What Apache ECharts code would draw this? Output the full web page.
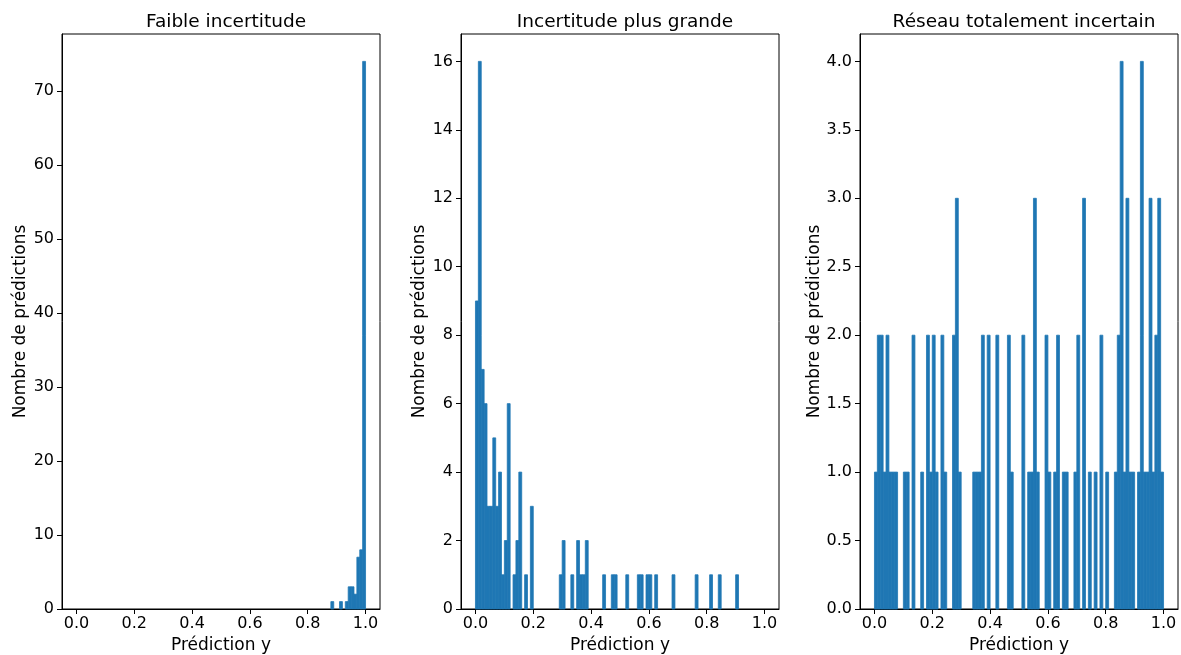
<!DOCTYPE html>
<html><head><meta charset="utf-8">
<script src="https://cdn.jsdelivr.net/npm/echarts@6/dist/echarts.min.js"></script>
<style>html,body{margin:0;padding:0;background:#fff}#c{width:1181px;height:655px}</style>
</head><body><div id="c"></div>
<script>
// ---- data ----
const titles = ['Faible incertitude', 'Incertitude plus grande', 'Réseau totalement incertain'];
const xLabel = 'Prédiction y';
const yLabel = 'Nombre de prédictions';
const binWidth = 0.01;
const xTicks = [0, 0.2, 0.4, 0.6, 0.8, 1.0];

// Panel 1: bin left edges and counts
const p1Edges = [0.88, 0.91, 0.93, 0.94, 0.95, 0.96, 0.97, 0.98, 0.99];
const p1Counts = [1, 1, 1, 3, 3, 2, 7, 8, 74];
const yTicks1 = [0, 10, 20, 30, 40, 50, 60, 70];

// Panel 2
const p2Edges = [0.00, 0.01, 0.02, 0.03, 0.04, 0.05, 0.06, 0.07, 0.08, 0.09, 0.10, 0.11, 0.13, 0.14, 0.15, 0.17, 0.19,
                 0.29, 0.30, 0.33, 0.35, 0.36, 0.37, 0.38, 0.44, 0.47, 0.48, 0.52, 0.56, 0.57, 0.59, 0.60, 0.62, 0.68,
                 0.76, 0.81, 0.84, 0.90];
const p2Counts = [9, 16, 7, 6, 3, 3, 5, 3, 4, 1, 2, 6, 1, 2, 4, 1, 3,
                  1, 2, 1, 2, 1, 1, 2, 1, 1, 1, 1, 1, 1, 1, 1, 1, 1,
                  1, 1, 1, 1];
const yTicks2 = [0, 2, 4, 6, 8, 10, 12, 14, 16];

// Panel 3: counts for each of the 100 bins (0.00 .. 0.99)
const p3Counts = [
  1, 2, 2, 1, 2, 1, 1, 1, 0, 0,
  1, 1, 0, 2, 0, 0, 1, 0, 2, 1,
  2, 1, 0, 2, 1, 0, 0, 2, 3, 1,
  0, 0, 0, 0, 1, 1, 1, 2, 0, 2,
  0, 0, 2, 0, 0, 0, 2, 1, 0, 0,
  0, 2, 0, 1, 1, 3, 1, 0, 0, 2,
  1, 0, 1, 2, 0, 1, 1, 0, 0, 1,
  2, 0, 3, 0, 1, 0, 1, 0, 2, 0,
  1, 0, 0, 1, 2, 4, 1, 3, 1, 1,
  0, 1, 4, 1, 1, 3, 1, 2, 3, 1
];
const p3Edges = p3Counts.map((_, i) => +(i * binWidth).toFixed(2));
const yTicks3 = [0, 0.5, 1.0, 1.5, 2.0, 2.5, 3.0, 3.5, 4.0];

// ---- chart ----
const FONT = 'DejaVu Sans';
const BLUE = '#1f77b4';
const panels = [
  {edges: p1Edges, counts: p1Counts, yTicks: yTicks1, fmt: v => String(v)},
  {edges: p2Edges, counts: p2Counts, yTicks: yTicks2, fmt: v => String(v)},
  {edges: p3Edges, counts: p3Counts, yTicks: yTicks3, fmt: v => v.toFixed(1)}
];
const gridLefts = [62, 461, 860];
const gridW = 318;

function renderBar(params, api) {
  const x0 = api.value(0), x1 = api.value(1), c = api.value(2);
  const a = api.coord([x0, 0]);
  const b = api.coord([x1, c]);
  return {
    type: 'rect',
    shape: {x: a[0], y: b[1], width: b[0] - a[0], height: a[1] - b[1]},
    style: {fill: BLUE, stroke: BLUE, lineWidth: 0.8}
  };
}

const option = {
  backgroundColor: '#fff',
  animation: false,
  title: titles.map((t, i) => ({
    text: t, left: gridLefts[i] + gridW / 2, top: 8, textAlign: 'center',
    textStyle: {fontFamily: FONT, fontSize: 18.5, fontWeight: 'normal', color: '#000'}
  })),
  grid: gridLefts.map(l => ({left: l, width: gridW, top: 34, bottom: 46, show: true,
    outerBoundsMode: 'none', containLabel: false,
    borderColor: '#000', borderWidth: 1, backgroundColor: 'transparent'})),
  xAxis: panels.map((p, i) => ({
    type: 'value', gridIndex: i, min: -0.05, max: 1.05,
    name: xLabel, nameLocation: 'middle', nameGap: 27,
    nameTextStyle: {fontFamily: FONT, fontSize: 17, color: '#000'},
    axisLine: {show: true, onZero: false, lineStyle: {color: '#000', width: 1}},
    axisTick: {show: true, inside: false, length: 5, customValues: xTicks, lineStyle: {color: '#000'}},
    axisLabel: {customValues: xTicks, margin: 7, fontFamily: FONT, fontSize: 16, color: '#000',
      formatter: v => v.toFixed(1)},
    splitLine: {show: false}
  })),
  yAxis: panels.map((p, i) => {
    const ymax = Math.max(...p.counts) * 1.05;
    return {
      type: 'value', gridIndex: i, min: 0, max: ymax,
      name: yLabel, nameLocation: 'middle', nameGap: 33,
      nameTextStyle: {fontFamily: FONT, fontSize: 17, color: '#000'},
      axisLine: {show: true, onZero: false, lineStyle: {color: '#000', width: 1}},
      axisTick: {show: true, inside: false, length: 5, customValues: p.yTicks, lineStyle: {color: '#000'}},
      axisLabel: {customValues: p.yTicks, margin: 8, fontFamily: FONT, fontSize: 16, color: '#000',
        formatter: p.fmt},
      splitLine: {show: false}
    };
  }),
  series: panels.map((p, i) => ({
    type: 'custom', xAxisIndex: i, yAxisIndex: i,
    renderItem: renderBar,
    encode: {x: [0, 1], y: 2},
    data: p.edges.map((e, k) => [e, +(e + binWidth).toFixed(2), p.counts[k]]).filter(d => d[2] > 0)
  }))
};

const chart = echarts.init(document.getElementById('c'), null, {renderer: 'canvas'});
chart.setOption(option);
</script>
</body></html>
